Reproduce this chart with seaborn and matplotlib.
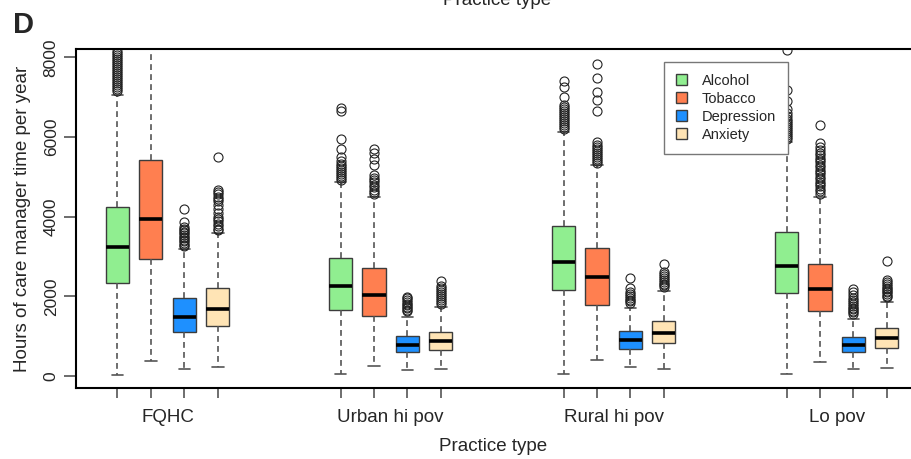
import matplotlib
matplotlib.use("Agg")
import matplotlib.pyplot as plt
import pandas as pd
import seaborn as sns

# ---------------- data ----------------
practice_types = ["FQHC", "Urban hi pov", "Rural hi pov", "Lo pov"]
conditions = ["Alcohol", "Tobacco", "Depression", "Anxiety"]
colors = ["#90EE90", "#FF7F50", "#1E90FF", "#FFE4B5"]

# box statistics, one value per practice type (order as practice_types)
alcohol_low = [25, 42, 42, 50]
alcohol_q1 = [2327, 1665, 2167, 2075]
alcohol_med = [3230, 2259, 2862, 2762]
alcohol_q3 = [4243, 2962, 3774, 3624]
alcohol_high = [7055, 4879, 6134, 5884]

tobacco_low = [385, 259, 402, 360]
tobacco_q1 = [2929, 1506, 1791, 1632]
tobacco_med = [3950, 2042, 2477, 2192]
tobacco_q3 = [5423, 2711, 3205, 2804]
tobacco_high = [9000, 4486, 5297, 4502]

depression_low = [176, 159, 218, 184]
depression_q1 = [1096, 594, 670, 594]
depression_med = [1490, 778, 904, 778]
depression_q3 = [1950, 996, 1130, 971]
depression_high = [3180, 1490, 1700, 1423]

anxiety_low = [234, 176, 184, 201]
anxiety_q1 = [1264, 653, 820, 711]
anxiety_med = [1682, 887, 1088, 954]
anxiety_q3 = [2218, 1113, 1381, 1213]
anxiety_high = [3582, 1741, 2134, 1866]

# outliers per practice type
alcohol_out = [
    [7150, 7200, 7250, 7300, 7350, 7400, 7450, 7500, 7550, 7600, 7650, 7700,
     7750, 7800, 7850, 7900, 7950, 8000, 8050, 8100, 8150],
    [4930, 4980, 5030, 5080, 5130, 5180, 5230, 5280, 5330, 5400, 5500, 5700,
     5950, 6650, 6720],
    [6200, 6250, 6300, 6350, 6400, 6450, 6500, 6550, 6600, 6650, 6700, 6750,
     6800, 7000, 7250, 7400],
    [5960, 6010, 6060, 6110, 6160, 6210, 6260, 6310, 6360, 6410, 6460, 6520,
     6600, 6700, 6900, 7180, 8190],
]
tobacco_out = [
    [],
    [4560, 4620, 4680, 4740, 4800, 4860, 4920, 4980, 5050, 5300, 5450, 5600,
     5700],
    [5350, 5400, 5450, 5500, 5550, 5600, 5650, 5700, 5750, 5800, 5870, 6650,
     6930, 7130, 7470, 7830],
    [4580, 4640, 4700, 4760, 4820, 4880, 4940, 5000, 5060, 5120, 5180, 5240,
     5300, 5360, 5420, 5480, 5540, 5600, 5680, 5760, 5840, 6300],
]
depression_out = [
    [3260, 3300, 3340, 3380, 3420, 3460, 3500, 3540, 3580, 3620, 3660, 3700,
     3750, 3870, 4200],
    [1620, 1660, 1700, 1740, 1780, 1820, 1860, 1900, 1950, 1990],
    [1840, 1880, 1920, 1960, 2000, 2050, 2100, 2200, 2470],
    [1560, 1600, 1640, 1680, 1720, 1760, 1800, 1850, 1900, 1960, 2030, 2100,
     2180],
]
anxiety_out = [
    [3660, 3700, 3760, 3820, 3880, 3940, 4000, 4100, 4200, 4300, 4400, 4450,
     4500, 4560, 4620, 4680, 5490],
    [1820, 1860, 1900, 1950, 2000, 2050, 2100, 2150, 2200, 2260, 2380],
    [2240, 2280, 2320, 2360, 2400, 2450, 2500, 2550, 2600, 2800],
    [1980, 2020, 2060, 2100, 2140, 2180, 2220, 2260, 2300, 2350, 2400, 2890],
]

y_ticks = [0, 2000, 4000, 6000, 8000]

stats = {
    "Alcohol": (alcohol_low, alcohol_q1, alcohol_med, alcohol_q3, alcohol_high, alcohol_out),
    "Tobacco": (tobacco_low, tobacco_q1, tobacco_med, tobacco_q3, tobacco_high, tobacco_out),
    "Depression": (depression_low, depression_q1, depression_med, depression_q3, depression_high, depression_out),
    "Anxiety": (anxiety_low, anxiety_q1, anxiety_med, anxiety_q3, anxiety_high, anxiety_out),
}

# Build a long table whose quartiles / whiskers / outliers reproduce the stats
rows = []
for cond in conditions:
    lo, q1, med, q3, hi, outs = stats[cond]
    for i, pt in enumerate(practice_types):
        vals = [lo[i]] + [q1[i]] * 100 + [med[i]] * 100 + [q3[i]] * 100 + [hi[i]] + outs[i]
        rows += [(pt, cond, v) for v in vals]
df = pd.DataFrame(rows, columns=["practice", "condition", "hours"])

# ---------------- plotting ----------------
sns.set_theme(style="white")
plt.rcParams["font.family"] = ["Liberation Sans", "DejaVu Sans"]

W, H = 911, 459
fig = plt.figure(figsize=(W / 100, H / 100), dpi=100)
ax_l, ax_r, ax_t, ax_b = 76, 911, 49, 388
ax = fig.add_axes([ax_l / W, 1 - ax_b / H, (ax_r - ax_l) / W, (ax_b - ax_t) / H])

sns.boxplot(
    data=df, x="practice", y="hours", hue="condition",
    order=practice_types, hue_order=conditions, palette=colors,
    saturation=1, width=0.6, gap=0.31, whis=1.5,
    linecolor="#3c3c3c", linewidth=1.0, fliersize=6.5,
    medianprops={"color": "black", "linewidth": 2.6},
    whiskerprops={"color": "#555555", "linewidth": 1.2, "linestyle": (0, (3.5, 2.5))},
    capprops={"color": "#555555", "linewidth": 1.2},
    flierprops={"marker": "o", "markerfacecolor": "none",
                "markeredgecolor": "#222222", "markeredgewidth": 0.8,
                "markersize": 6.5},
    ax=ax,
)

ax.set_xlim(-0.411, 3.333)
ax.set_ylim(-300, 8208)

# spines
for s in ["left", "bottom", "top"]:
    ax.spines[s].set_visible(True)
    ax.spines[s].set_color("black")
    ax.spines[s].set_linewidth(1.5)
ax.spines["right"].set_visible(False)

# y axis
ax.set_yticks(y_ticks)
ax.set_yticklabels([str(v) for v in y_ticks], rotation=90, va="center")
ax.tick_params(axis="y", which="major", length=8.5, width=1.1, color="#444444",
               direction="out", pad=4, labelsize=12.5, left=True)

# x axis: labels at group centres, ticks at every box
ax.set_xticks(range(len(practice_types)))
ax.set_xticklabels(practice_types)
ax.tick_params(axis="x", which="major", length=0, pad=15, labelsize=13.5)
offsets = [-0.225, -0.075, 0.075, 0.225]
ax.set_xticks([i + o for i in range(len(practice_types)) for o in offsets], minor=True)
ax.tick_params(axis="x", which="minor", length=7.5, width=1.2, color="#555555",
               direction="out", bottom=True)

ax.set_xlabel("Practice type", fontsize=13.5, labelpad=9)
ax.set_ylabel("Hours of care manager time per year", fontsize=13.5, labelpad=9)

# legend
handles, labels = ax.get_legend_handles_labels()
ax.legend(handles, labels, loc="upper left",
          bbox_to_anchor=((664 - ax_l) / (ax_r - ax_l), (ax_b - 62) / (ax_b - ax_t)),
          borderaxespad=0, frameon=True, fancybox=False, framealpha=1,
          edgecolor="#777777", fontsize=10.5, handlelength=0.8, handleheight=0.8,
          handletextpad=1.0, labelspacing=0.28, borderpad=0.8)
ax.get_legend().get_frame().set_linewidth(1.0)

# panel letter and clipped header from the panel above
fig.text(13 / W, 1 - 33 / H, "D", fontsize=21, fontweight="bold", ha="left", va="baseline")
fig.text(497 / W, 1 - 5 / H, "Practice type", fontsize=13.5, ha="center", va="baseline")

fig.savefig("out.png", dpi=100)
